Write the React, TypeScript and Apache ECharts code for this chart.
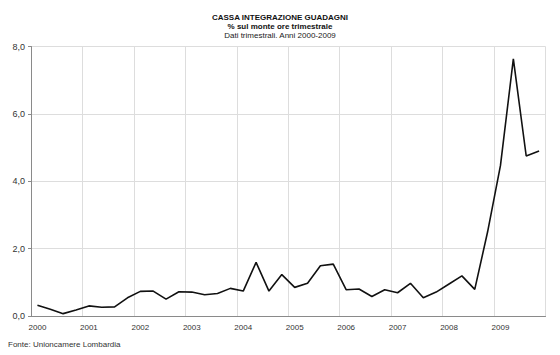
import React, { useEffect, useRef } from "react";
import * as echarts from "echarts";

const years = ["2000", "2001", "2002", "2003", "2004", "2005", "2006", "2007", "2008", "2009"];
const quarters = ["T1", "T2", "T3", "T4"];
const categories = years.flatMap((y) => quarters.map((q) => `${y} ${q}`));

const values = [
  0.32, 0.2, 0.07, 0.18,
  0.3, 0.26, 0.27, 0.54,
  0.73, 0.74, 0.5, 0.72,
  0.71, 0.63, 0.67, 0.82,
  0.74, 1.59, 0.74, 1.23,
  0.85, 0.97, 1.49, 1.54,
  0.78, 0.8, 0.58, 0.78,
  0.69, 0.97, 0.54, 0.71,
  0.95, 1.19, 0.79, 2.5,
  4.47, 7.63, 4.75, 4.9,
];

const titleText = "CASSA INTEGRAZIONE GUADAGNI";
const subtitle1 = "% sul monte ore trimestrale";
const subtitle2 = "Dati trimestrali. Anni 2000-2009";
const sourceText = "Fonte: Unioncamere Lombardia";

const FONT = "'Liberation Sans', Arial, sans-serif";

export default function App() {
  const ref = useRef<HTMLDivElement>(null);
  useEffect(() => {
    if (!ref.current) return;
    const chart = echarts.init(ref.current, undefined, { renderer: "svg" });
    chart.setOption({
      animation: false,
      backgroundColor: "#ffffff",
      textStyle: { fontFamily: FONT },
      title: [
        {
          text: titleText,
          left: "center",
          top: 8,
          textStyle: { fontSize: 8, fontWeight: "bold", color: "#111", fontFamily: FONT },
        },
        {
          text: subtitle1,
          left: "center",
          top: 17,
          textStyle: { fontSize: 8, fontWeight: "bold", color: "#111", fontFamily: FONT },
        },
        {
          text: subtitle2,
          left: "center",
          top: 26.5,
          textStyle: { fontSize: 8, fontWeight: "normal", color: "#222", fontFamily: FONT },
        },
        {
          text: sourceText,
          left: 3,
          top: 335,
          textStyle: { fontSize: 8, fontWeight: "normal", color: "#333", fontFamily: FONT },
        },
      ],
      grid: { left: 31, right: 14.5, top: 46.5, bottom: 39 },
      xAxis: {
        type: "category",
        data: categories,
        boundaryGap: true,
        axisLine: { show: true, lineStyle: { color: "#8a8a8a", width: 1 } },
        axisTick: { show: false },
        axisLabel: {
          interval: 3,
          formatter: (v: string) => v.slice(0, 4),
          fontSize: 8,
          color: "#333",
          margin: 7,
          fontFamily: FONT,
        },
        splitLine: { show: true, interval: 3, lineStyle: { color: "#dddddd", width: 1 } },
      },
      yAxis: {
        type: "value",
        min: 0,
        max: 8,
        interval: 2,
        axisLine: { show: true, lineStyle: { color: "#8a8a8a", width: 1 } },
        axisTick: { show: true, length: 3, lineStyle: { color: "#8a8a8a" } },
        axisLabel: {
          formatter: (v: number) => v.toFixed(1).replace(".", ","),
          fontSize: 9,
          color: "#333",
          margin: 6,
          fontFamily: FONT,
        },
        splitLine: { show: true, lineStyle: { color: "#dddddd", width: 1 } },
      },
      series: [
        {
          type: "line",
          data: values,
          symbol: "none",
          lineStyle: { color: "#111", width: 1.6 },
        },
      ],
    });
    return () => chart.dispose();
  }, []);
  return (
    <div
      ref={ref}
      style={{ position: "fixed", left: 0, top: 0, width: 560, height: 355 }}
    />
  );
}
